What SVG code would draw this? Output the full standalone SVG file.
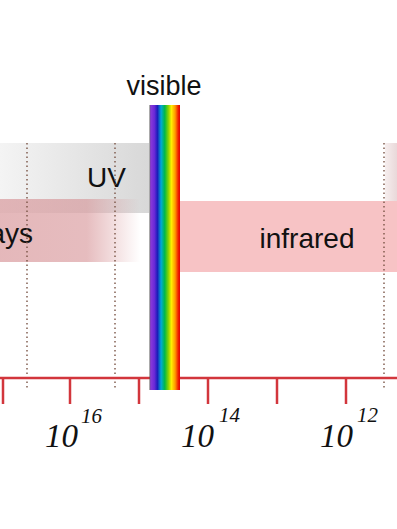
<svg xmlns="http://www.w3.org/2000/svg" width="397" height="529" viewBox="0 0 397 529">
  <style>
    .lbl { font-family: "Liberation Sans", Arial, sans-serif; font-size: 28px; fill: #111; }
    .num { font-family: "Liberation Serif", "Times New Roman", serif; font-style: italic; fill: #111; }
    .dot { stroke: #7a5446; stroke-width: 1.4; stroke-dasharray: 1.5 3; fill: none; }
    .axis { stroke: #d2363c; stroke-width: 2.5; fill: none; }
  </style>
  <defs>
    <linearGradient id="uvGrad" x1="0" y1="0" x2="1" y2="0">
      <stop offset="0" stop-color="#f4f4f4"/>
      <stop offset="0.5" stop-color="#e6e6e6"/>
      <stop offset="1" stop-color="#d8d8d8"/>
    </linearGradient>
    <linearGradient id="xrGrad" x1="0" y1="0" x2="140" y2="0" gradientUnits="userSpaceOnUse">
      <stop offset="0" stop-color="#d48c90" stop-opacity="0.62"/>
      <stop offset="0.62" stop-color="#d48c90" stop-opacity="0.58"/>
      <stop offset="1" stop-color="#d48c90" stop-opacity="0"/>
    </linearGradient>
    <linearGradient id="rightGrad" x1="0" y1="0" x2="1" y2="0">
      <stop offset="0" stop-color="#f6eeee"/>
      <stop offset="1" stop-color="#e9d8d9"/>
    </linearGradient>
    <linearGradient id="rainbow" x1="0" y1="0" x2="1" y2="0">
      <stop offset="0" stop-color="#555"/>
      <stop offset="0.04" stop-color="#8a3ad8"/>
      <stop offset="0.16" stop-color="#6a28d8"/>
      <stop offset="0.26" stop-color="#1c1cb8"/>
      <stop offset="0.38" stop-color="#00a8d8"/>
      <stop offset="0.5" stop-color="#00b848"/>
      <stop offset="0.62" stop-color="#8ad400"/>
      <stop offset="0.72" stop-color="#ffee00"/>
      <stop offset="0.84" stop-color="#ff9a00"/>
      <stop offset="0.94" stop-color="#f02000"/>
      <stop offset="1" stop-color="#e00000"/>
    </linearGradient>
  </defs>

  <rect width="397" height="529" fill="#ffffff"/>

  <g id="uv-band">
    <rect x="0" y="143" width="149" height="70" fill="url(#uvGrad)"/>
    <text class="lbl" x="126" y="187" text-anchor="end">UV</text>
  </g>

  <g id="xray-band">
    <rect x="0" y="199" width="140" height="63" fill="url(#xrGrad)"/>
    <text class="lbl" x="33" y="243" text-anchor="end">X-rays</text>
  </g>

  <g id="ir-band">
    <rect x="385" y="143" width="12" height="58" fill="url(#rightGrad)"/>
    <rect x="180" y="201" width="217" height="71" fill="#f7c3c5"/>
    <text class="lbl" x="307" y="248" text-anchor="middle">infrared</text>
  </g>

  <g id="gridlines">
    <line class="dot" x1="27" y1="143" x2="27" y2="388"/>
    <line class="dot" x1="115" y1="143" x2="115" y2="388"/>
    <line class="dot" x1="384" y1="143" x2="384" y2="388"/>
  </g>

  <g id="axis">
    <line class="axis" x1="0" y1="378" x2="397" y2="378"/>
    <line class="axis" x1="3" y1="378" x2="3" y2="404"/>
    <line class="axis" x1="70" y1="378" x2="70" y2="404"/>
    <line class="axis" x1="139" y1="378" x2="139" y2="404"/>
    <line class="axis" x1="208" y1="378" x2="208" y2="404"/>
    <line class="axis" x1="277" y1="378" x2="277" y2="404"/>
    <line class="axis" x1="346" y1="378" x2="346" y2="404"/>
  </g>

  <g id="visible">
    <rect x="149.5" y="105" width="30.5" height="285" fill="url(#rainbow)"/>
    <text class="lbl" x="164" y="95" text-anchor="middle" style="font-size:27px">visible</text>
  </g>

  <g id="labels">
    <text class="num" x="45" y="447" font-size="33">10</text>
    <text class="num" x="81" y="423" font-size="21">16</text>
    <text class="num" x="181" y="447" font-size="33">10</text>
    <text class="num" x="219" y="422" font-size="21">14</text>
    <text class="num" x="320" y="447" font-size="33">10</text>
    <text class="num" x="357" y="422" font-size="21">12</text>
  </g>
</svg>
